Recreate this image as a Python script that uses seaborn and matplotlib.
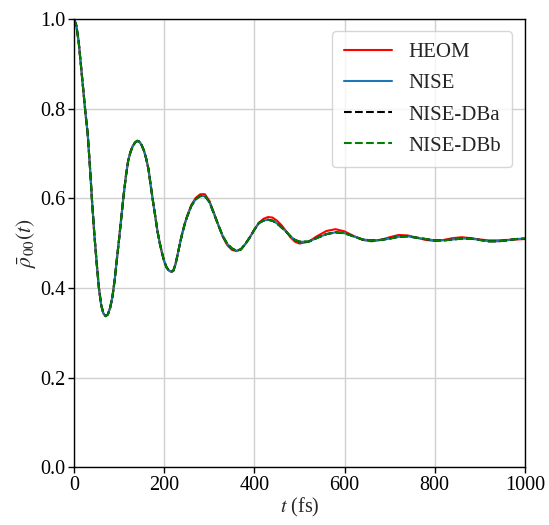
import numpy as np
import pandas as pd
import matplotlib
matplotlib.use("Agg")
import matplotlib.pyplot as plt
import seaborn as sns

# time grid (fs)
t_vals = [0, 5, 10, 15, 20, 25, 30, 35, 40, 45, 50, 55, 60, 65, 70, 75, 80, 85,
          90, 95, 100, 105, 110, 115, 120, 125, 130, 135, 140, 145, 150, 155,
          160, 165, 170, 175, 180, 185, 190, 195, 200, 205, 210, 215, 220, 225,
          230, 235, 240, 245, 250, 260, 270, 280, 290,
          300, 310, 320, 330, 340, 350, 360, 370, 380, 390, 400, 410, 420, 430,
          440, 450, 460, 470, 480, 490, 500, 520, 540, 560, 580, 600, 620, 640,
          660, 680, 700, 720, 740, 760, 780, 800, 820, 840, 860, 880, 900, 920,
          940, 960, 980, 1000]

early = [1.000, 0.985, 0.950, 0.898, 0.845, 0.792, 0.745, 0.672, 0.590, 0.518,
         0.456, 0.400, 0.362, 0.343, 0.337, 0.341, 0.356, 0.380, 0.418, 0.465,
         0.511, 0.560, 0.608, 0.650, 0.684, 0.703, 0.716, 0.724, 0.728, 0.726,
         0.718, 0.706, 0.688, 0.665, 0.628, 0.593, 0.560, 0.526, 0.500, 0.478,
         0.459, 0.446, 0.439, 0.436, 0.438, 0.453, 0.476, 0.500, 0.522, 0.541]

heom = early + [
        0.558, 0.585, 0.601, 0.609, 0.609,
        0.594, 0.568, 0.540, 0.514, 0.495, 0.485, 0.482, 0.486, 0.498, 0.513,
        0.530, 0.545, 0.554, 0.558, 0.557, 0.550, 0.540, 0.527, 0.513, 0.503,
        0.499, 0.503, 0.516, 0.527, 0.531, 0.526, 0.516, 0.507, 0.504, 0.507,
        0.513, 0.518, 0.517, 0.512, 0.507, 0.505, 0.507, 0.511, 0.513, 0.511,
        0.508, 0.506, 0.506, 0.507, 0.508, 0.509]

nise = early + [
        0.557, 0.583, 0.598, 0.605, 0.605,
        0.592, 0.566, 0.540, 0.515, 0.498, 0.488, 0.483, 0.486, 0.498, 0.513,
        0.530, 0.545, 0.550, 0.552, 0.550, 0.544, 0.535, 0.526, 0.515, 0.507,
        0.503, 0.503, 0.512, 0.520, 0.524, 0.522, 0.515, 0.508, 0.506, 0.507,
        0.510, 0.514, 0.515, 0.512, 0.509, 0.506, 0.506, 0.508, 0.510, 0.510,
        0.507, 0.504, 0.504, 0.506, 0.509, 0.510]

nise_dba = list(nise)
nise_dbb = list(nise)

x_ticks = [0, 200, 400, 600, 800, 1000]
y_ticks = [0.0, 0.2, 0.4, 0.6, 0.8, 1.0]

sns.set_style("ticks")
plt.rcParams["font.family"] = ["Liberation Serif", "DejaVu Serif"]
plt.rcParams["mathtext.fontset"] = "stix"

FS = 14.5
fig = plt.figure(figsize=(5.49, 5.25), dpi=100)
ax = fig.add_axes([0.135, 0.110, 0.821, 0.854])

series = [
    ("HEOM", heom, "red", "-"),
    ("NISE", nise, "#1f77b4", "-"),
    ("NISE-DBa", nise_dba, "black", "--"),
    ("NISE-DBb", nise_dbb, "green", "--"),
]
for name, vals, col, ls in series:
    df = pd.DataFrame({"t": t_vals, "v": vals})
    sns.lineplot(data=df, x="t", y="v", ax=ax, color=col, linestyle=ls,
                 linewidth=1.5, label=name)

ax.set_xlim(0, 1000)
ax.set_ylim(0, 1.0)
ax.set_xticks(x_ticks)
ax.set_yticks(y_ticks)
ax.set_xticklabels([str(v) for v in x_ticks])
ax.set_yticklabels([f"{v:.1f}" for v in y_ticks])
ax.grid(True, color="#d0d0d0", linewidth=1.0)
ax.set_axisbelow(True)
for s in ax.spines.values():
    s.set_color("black")
    s.set_linewidth(1.0)
ax.tick_params(axis="both", colors="black", labelsize=FS, length=4, width=1, pad=2)
ax.set_xlabel(r"$t$ (fs)", fontsize=FS, labelpad=1)
ax.set_ylabel(r"$\bar{\rho}_{00}(t)$", fontsize=FS + 1, labelpad=2)

leg = ax.legend(loc="upper right", fontsize=FS + 0.5, frameon=True, handlelength=2.3,
                borderpad=0.55, labelspacing=0.55, borderaxespad=0.6)
leg.get_frame().set_edgecolor("#cccccc")
leg.get_frame().set_linewidth(1.0)

fig.savefig("out.png", dpi=100)
